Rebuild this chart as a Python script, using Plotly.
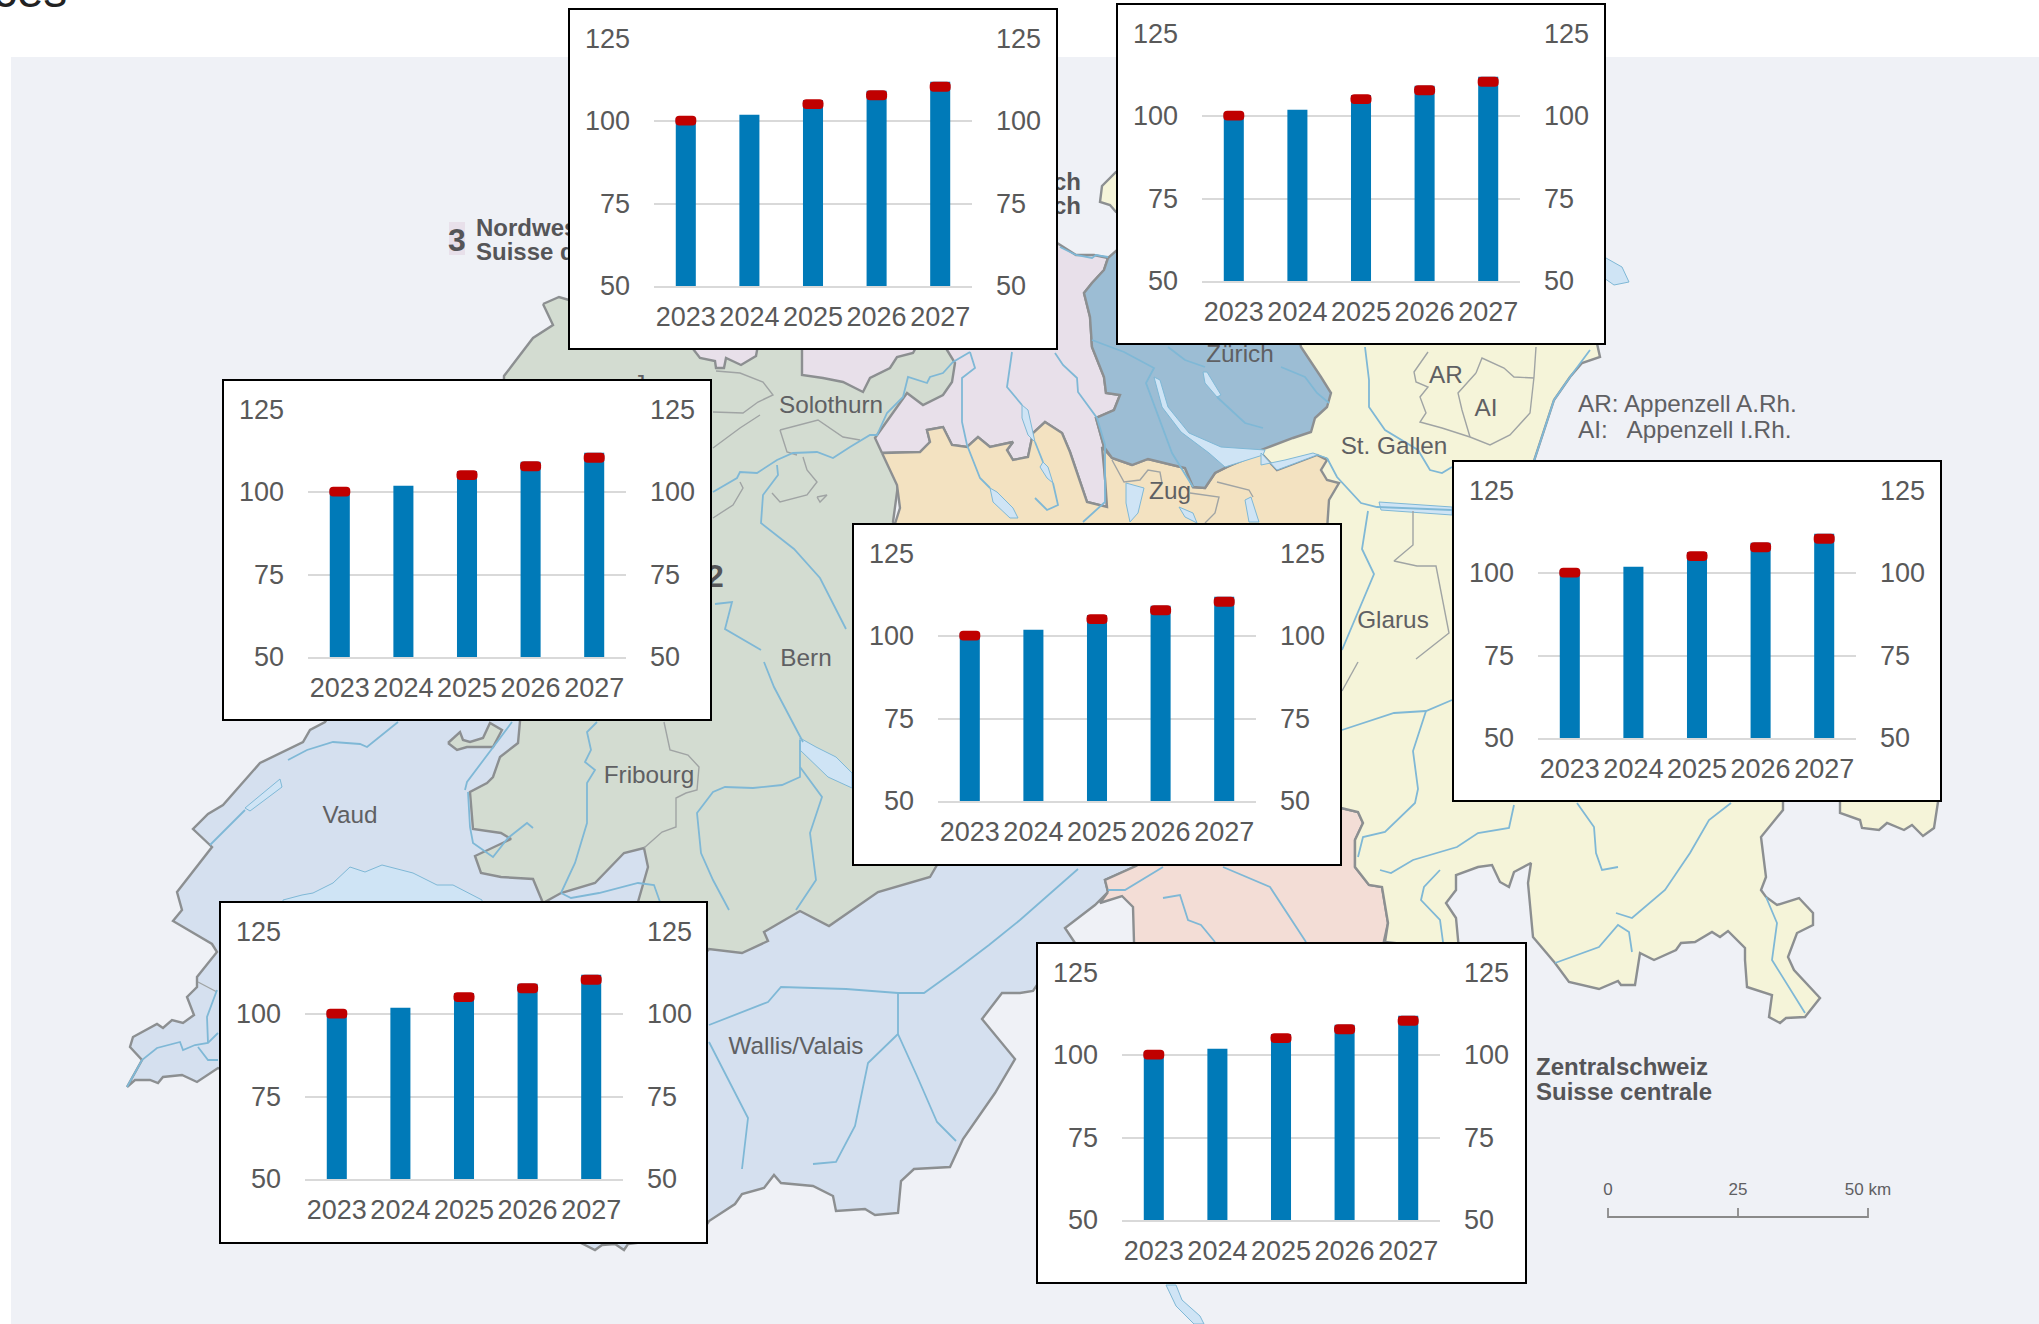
import plotly.graph_objects as go

W, H = 2039, 1324

# ---- chart data (the same in every regional panel) ----
YEARS = ["2023", "2024", "2025", "2026", "2027"]
INDEX_VALUES = [101.0, 101.9, 106.4, 109.2, 111.9]
MARKER_VALUES = [100.1, None, 105.1, 107.8, 110.4]
TICKS = [50, 75, 100, 125]

# panel frames: left, top, right, bottom (page pixels)
PANELS = [
    (569, 9, 1057, 349),
    (1117, 4, 1605, 344),
    (223, 380, 711, 720),
    (853, 524, 1341, 865),
    (1453, 461, 1941, 801),
    (220, 902, 707, 1243),
    (1037, 943, 1526, 1283),
]

BLUE = "#007ab8"
RED = "#c00000"
GREY_TXT = "#595959"
GRID = "#d9d9d9"
FONT = "Liberation Sans"
MARKER_HEIGHT = 3.0

# ---- decorative base map (page pixels) ----
C_BG = "#eff1f6"
C_WEST = "#d5e0ef"
C_GREEN = "#d3dcd1"
C_PURPLE = "#e8e0ea"
C_ORANGE = "#f3e2c1"
C_YELLOW = "#f5f4d9"
C_PINK = "#f3ddd6"
C_ZH = "#9cbdd4"
C_LAKE = "#cfe4f5"
C_BORDER = "#8c8f91"
C_THIN = "#a0a4a4"
C_RIVER = "#7fb8d6"
C_LABEL = "#5f6063"

west = [(127,1087),(142,1060),(130,1047),(133,1037),(157,1024),(163,1028),(172,1020),(183,1023),(194,1015),
        (187,997),(197,987),(197,977),(217,952),(212,944),(173,921),(182,910),(177,892),(192,873),(212,847),
        (193,829),(208,814),(223,805),(260,763),(303,742),(310,730),(325,722),(340,700),(700,690),(1141,700),
        (1200,800),(1136,866),(1105,880),(1108,892),(1095,905),(1065,928),(1075,943),(1037,985),(1033,991),
        (1020,993),(1002,993),(982,1019),(1015,1059),(995,1093),(963,1139),(950,1167),(914,1169),(901,1181),
        (898,1213),(875,1215),(865,1209),(836,1211),(833,1196),(813,1186),(781,1183),(774,1175),(764,1188),
        (742,1194),(735,1204),(709,1221),(700,1235),(628,1244),(624,1250),(615,1244),(602,1245),(595,1250),
        (585,1245),(570,1238),(300,1100),(218,1068),(197,1082),(182,1075),(163,1077),(158,1083),(150,1080),(135,1080)]
green = [(543,304),(559,297),(569,300),(700,300),(960,340),(950,400),(900,470),(893,522),(960,600),(937,865),
         (930,877),(878,892),(829,926),(800,911),(764,932),(768,941),(742,953),(709,949),(700,960),(638,950),
         (638,902),(648,867),(644,848),(624,853),(595,883),(561,893),(543,903),(533,879),(501,877),(481,873),
         (475,856),(511,839),(501,833),(473,829),(470,792),(487,783),(493,777),(500,757),(518,743),(520,721),
         (500,600),(504,380),(504,376),(520,355),(533,338),(553,325)]
green_enclave = [(448,743),(460,732),(463,740),(470,742),(483,738),(490,723),(502,730),(493,747),(467,747),(457,750)]
purple_main = [(882,453),(875,438),(907,393),(923,405),(943,395),(952,382),(955,363),(947,350),(960,300),(1057,243),
               (1076,255),(1094,255),(1108,258),(1104,270),(1092,283),(1084,293),(1090,317),(1092,347),(1104,377),
               (1106,393),(1120,395),(1114,410),(1096,418),(1104,447),(1105,478),(1107,507),(1087,502),(1070,452),
               (1062,433),(1045,422),(1033,433),(1028,457),(1013,460),(1007,450),(1013,442),(990,447),(978,437),
               (967,447),(952,445),(943,427),(927,430),(930,442),(920,452)]
purple_bl = [(802,340),(802,375),(823,378),(843,382),(863,392),(870,378),(890,368),(897,357),(913,353),(920,340)]
purple_bs = [(690,345),(700,358),(715,361),(716,368),(724,368),(726,358),(741,365),(756,356),(758,345)]
yellow = [(1385,942),(1388,923),(1382,887),(1369,885),(1355,867),(1355,840),(1363,823),(1358,812),(1341,808),
          (1290,560),(1250,450),(1250,330),(1594,330),(1600,357),(1582,363),(1570,377),(1554,400),(1534,461),(1700,470),
          (1938,600),(1938,802),(1934,828),(1923,836),(1912,825),(1904,830),(1887,823),(1879,830),(1862,828),
          (1860,820),(1840,813),(1840,795),(1783,795),(1783,810),(1764,833),(1761,837),(1766,877),(1761,890),
          (1766,897),(1777,905),(1799,898),(1813,913),(1813,925),(1797,933),(1788,957),(1794,970),(1820,998),
          (1805,1017),(1786,1018),(1780,1023),(1769,1017),(1772,995),(1747,987),(1745,960),(1745,948),(1728,931),
          (1720,937),(1712,932),(1695,942),(1681,943),(1676,950),(1654,960),(1640,953),(1635,985),(1621,985),
          (1618,981),(1599,989),(1583,985),(1569,982),(1555,963),(1533,937),(1528,883),(1531,863),(1514,872),
          (1509,887),(1500,882),(1492,865),(1478,867),(1456,875),(1456,890),(1446,903),(1456,918),(1459,950)]
schaffhausen = [(1130,165),(1116,172),(1102,186),(1100,202),(1110,205),(1116,212),(1130,215)]
pink = [(1108,892),(1105,880),(1136,866),(1141,863),(1200,750),(1341,750),(1341,808),(1358,812),(1363,823),(1355,840),
        (1355,867),(1369,885),(1382,887),(1388,923),(1382,950),(1134,950),(1134,942),(1133,907),(1122,896),(1100,903)]
zurich = [(1108,258),(1104,270),(1092,283),(1084,293),(1090,317),(1092,347),(1104,377),(1106,393),(1120,395),(1114,410),
          (1096,418),(1104,447),(1112,458),(1132,465),(1148,459),(1185,468),(1193,487),(1205,488),(1215,473),(1227,467),
          (1261,450),(1293,438),(1311,432),(1315,418),(1327,407),(1331,393),(1321,377),(1301,347),(1290,300),(1117,250)]
orange = [(882,453),(920,452),(930,442),(927,430),(943,427),(952,445),(967,447),(978,437),(990,447),(1013,442),
          (1007,450),(1013,460),(1028,457),(1033,433),(1045,422),(1062,433),(1070,452),(1087,502),(1107,507),(1105,478),
          (1102,447),(1112,458),(1132,465),(1148,459),(1185,468),(1193,487),(1205,488),(1215,473),(1227,467),(1261,453),
          (1277,470),(1317,455),(1327,460),(1321,470),(1327,480),(1339,483),(1329,500),(1327,530),(1200,540),(893,530),
          (900,508),(897,485)]
REGIONS = [
    (west, C_WEST), (green, C_GREEN), (green_enclave, C_GREEN), (purple_bl, C_PURPLE), (purple_bs, C_PURPLE),
    (pink, C_PINK), (yellow, C_YELLOW), (schaffhausen, C_YELLOW), (purple_main, C_PURPLE), (orange, C_ORANGE),
    (zurich, C_ZH),
]
LAKES = [
    [(1154,377),(1160,380),(1168,407),(1189,433),(1221,447),(1265,450),(1263,455),(1225,467),(1209,453),(1181,432),(1162,407)],
    [(1203,372),(1207,372),(1221,395),(1217,397),(1205,383)],
    [(1261,453),(1277,470),(1317,455),(1327,458),(1313,453),(1285,460),(1261,465)],
    [(1126,483),(1144,488),(1138,513),(1130,522),(1126,503)],
    [(1245,500),(1251,497),(1259,522),(1249,522)],
    [(1179,507),(1193,513),(1197,523),(1185,517)],
    [(1379,502),(1452,507),(1452,515),(1381,510)],
    [(990,488),(997,492),(1013,508),(1018,518),(1010,518),(993,502)],
    [(1022,405),(1028,410),(1035,442),(1028,435),(1022,418)],
    [(1043,462),(1048,467),(1053,483),(1047,478),(1040,467)],
    [(800,738),(816,747),(836,757),(852,773),(852,788),(828,777),(800,750)],
    [(283,900),(302,895),(313,893),(333,883),(350,867),(365,872),(382,865),(413,873),(437,885),(453,885),(482,900),(482,960),(283,960)],
    [(245,808),(280,779),(282,787),(250,811)],
    [(1606,258),(1622,267),(1629,282),(1614,285),(1604,278),(1600,258)],
    [(1166,1285),(1176,1285),(1182,1300),(1200,1316),(1204,1324),(1194,1324),(1176,1306)],
]
RIVERS = [
    [(1060,247),(1076,255),(1092,258),(1096,255),(1108,257)],
    [(713,492),(737,478),(740,472),(757,473),(777,460),(793,453),(817,452),(833,458),(850,447),(870,435),(877,435),(887,413),(903,397),(908,377),(927,383),(930,377),(943,373),(953,362),(970,352)],
    [(777,465),(778,475),(763,495),(761,523),(794,549),(820,578),(846,629)],
    [(764,662),(774,687),(794,725),(803,742)],
    [(970,352),(975,368),(962,378),(962,422),(967,445),(980,478),(990,488)],
    [(1012,352),(1007,387),(1022,405)], [(1035,442),(1043,462)], [(1053,483),(1058,505),(1047,510),(1035,498)],
    [(1055,353),(1063,365),(1077,378),(1078,392),(1097,418),(1105,445),(1105,502),(1083,522)],
    [(1092,340),(1124,352),(1154,368),(1146,383),(1172,453),(1193,487)],
    [(1217,397),(1245,423),(1263,428)], [(1168,347),(1185,360),(1205,367)], [(1281,367),(1305,377),(1317,393),(1329,403)],
    [(1534,461),(1554,400),(1570,377),(1590,350)],
    [(1365,347),(1369,380),(1369,407),(1385,430),(1418,450),(1430,470),(1442,473),(1452,467)],
    [(1327,458),(1337,477),(1361,503),(1377,507),(1452,510)],
    [(1368,511),(1362,549),(1374,574),(1358,612),(1342,650)],
    [(1342,730),(1394,713),(1426,711),(1452,700)], [(1426,711),(1413,751),(1418,789),(1415,803),(1385,832),(1363,837),(1358,857)],
    [(1380,870),(1391,873),(1413,860),(1457,847),(1478,833),(1509,828),(1514,805)],
    [(1440,870),(1424,887),(1421,900),(1440,920),(1443,942)],
    [(1577,803),(1594,827),(1596,853),(1602,870),(1618,867)],
    [(1731,803),(1709,820),(1690,853),(1665,890),(1632,918),(1616,913)],
    [(1555,963),(1599,947),(1618,925),(1629,932),(1632,952)],
    [(1766,897),(1777,923),(1772,960),(1805,1013)],
    [(1163,867),(1125,890),(1108,890)], [(1163,898),(1180,895),(1188,920),(1201,925),(1215,942)],
    [(1223,867),(1248,878),(1270,887),(1306,942)],
    [(709,1025),(768,1002),(781,987),(846,989),(898,993),(924,993),(956,970),(989,945),(1020,920),(1078,869)],
    [(898,993),(898,1034),(917,1076),(937,1122),(956,1141)], [(898,1034),(868,1063),(855,1126),(836,1162),(813,1164)],
    [(709,1042),(748,1118),(742,1169)],
    [(210,845),(245,810)], [(288,760),(307,750),(333,742),(360,744),(367,747),(398,722)],
    [(127,1087),(142,1060),(157,1048),(180,1042),(183,1050),(195,1045),(208,1043),(218,1033)],
    [(198,1047),(208,1060),(218,1060)], [(217,990),(207,1017),(208,1043)],
    [(512,722),(467,782),(465,790)], [(468,792),(470,827),(473,843),(493,857),(508,838),(527,823),(533,828)],
    [(597,722),(587,732),(591,750),(585,762),(595,770),(587,783),(587,823),(575,863),(561,893)],
    [(800,740),(800,777),(782,785),(753,788),(725,787),(713,792),(697,813),(701,853),(713,880),(729,910)],
    [(800,767),(822,797),(810,833),(816,880),(796,910)],
    [(561,893),(571,898),(599,893),(638,883),(654,885),(660,902)],
    [(715,604),(732,602),(725,629),(761,650)],
]
THIN = [
    [(664,722),(670,750),(688,755),(699,767),(697,790),(686,793),(676,798),(676,827),(662,832),(644,848)],
    [(713,412),(743,413),(758,402),(773,395),(763,382),(740,373),(716,371)],
    [(780,430),(818,420),(843,437),(860,440)], [(780,430),(787,452),(797,455)],
    [(803,457),(807,470),(817,482),(807,495),(780,502),(772,493)], [(817,497),(827,495),(820,502),(817,497)],
    [(713,448),(740,428),(760,415)], [(713,518),(733,505),(743,488),(740,482)],
    [(1428,352),(1414,372),(1416,382),(1428,387),(1420,397),(1426,413),(1420,422),(1442,428),(1470,437),(1490,445),(1510,435),(1530,413),(1534,377),(1536,347)],
    [(1476,373),(1458,393),(1462,410),(1470,437)], [(1476,373),(1482,358),(1504,368),(1514,377),(1534,378)],
    [(1413,511),(1413,545),(1394,561),(1417,566),(1436,566),(1449,633),(1416,659)], [(1342,691),(1358,662)],
    [(1112,460),(1124,482),(1140,480),(1148,470),(1160,472),(1162,483)],
    [(1190,493),(1219,497),(1215,513),(1205,523)], [(1217,482),(1249,490),(1253,497)],
    [(198,982),(217,992)],
]
SCALE_BAR = [[(1608,1208),(1608,1217),(1868,1217),(1868,1208)], [(1738,1208),(1738,1217)]]

# text, x, y, anchor
REGULAR_LABELS = [
    ("Solothurn", 831, 407, "middle center"), ("Zürich", 1240, 356, "middle center"), ("Zug", 1170, 493, "middle center"),
    ("St. Gallen", 1394, 448, "middle center"), ("AR", 1446, 377, "middle center"), ("AI", 1486, 410, "middle center"),
    ("Fribourg", 649, 777, "middle center"), ("Glarus", 1393, 622, "middle center"), ("Bern", 806, 660, "middle center"),
    ("Vaud", 350, 817, "middle center"), ("Wallis/Valais", 796, 1048, "middle center"), ("Jura", 657, 386, "middle center"),
    ("AR: Appenzell A.Rh.", 1578, 406, "middle right"), ("AI:   Appenzell I.Rh.", 1578, 432, "middle right"),
]
BOLD_LABELS = [
    ("Nordwestschweiz", 476, 229.5, "middle right"), ("Suisse du Nord-Ouest", 476, 253.5, "middle right"),
    ("Zürich", 1081, 184, "middle left"), ("Zurich", 1081, 208, "middle left"),
    ("Zentralschweiz", 1536, 1068.5, "middle right"), ("Suisse centrale", 1536, 1093.5, "middle right"),
]
SCALE_LABELS = [("0", 1608, 1191, "middle center"), ("25", 1738, 1191, "middle center"), ("50 km", 1868, 1191, "middle center")]
BIG_DIGITS = [("3", 457, 242.5), ("2", 715, 579)]
BADGE = [(449,222),(465,222),(465,255),(449,255)]
CLIPPED_TITLE = ("ces", 30, 19)


def path(pts, close=False):
    xs = [p[0] for p in pts]
    ys = [p[1] for p in pts]
    if close:
        xs.append(xs[0])
        ys.append(ys[0])
    return xs, ys


def multi(paths):
    xs, ys = [], []
    for p in paths:
        a, b = path(p)
        xs += a + [None]
        ys += b + [None]
    return xs, ys


fig = go.Figure()


def poly(pts, fill, line=None, width=2.4):
    x, y = path(pts, True)
    fig.add_trace(go.Scatter(x=x, y=y, mode="lines", fill="toself", fillcolor=fill,
                             line=dict(color=line or fill, width=width if line else 0),
                             hoverinfo="skip", showlegend=False, xaxis="x", yaxis="y"))


def lines(paths, color, width):
    x, y = multi(paths)
    fig.add_trace(go.Scatter(x=x, y=y, mode="lines", line=dict(color=color, width=width),
                             hoverinfo="skip", showlegend=False, xaxis="x", yaxis="y"))


def texts(items, size, color=C_LABEL, weight="normal"):
    for it in items:
        fig.add_trace(go.Scatter(x=[it[1]], y=[it[2]], mode="text", text=[it[0]],
                                 textposition=it[3] if len(it) > 3 else "middle center",
                                 textfont=dict(size=size, color=color, family=FONT, weight=weight),
                                 hoverinfo="skip", showlegend=False, xaxis="x", yaxis="y"))


poly([(11, 57), (W, 57), (W, H), (11, H)], C_BG)
for pts, col in REGIONS:
    poly(pts, col, C_BORDER)
for lk in LAKES:
    poly(lk, C_LAKE, C_RIVER, 1)
lines(THIN, C_THIN, 1.4)
lines(RIVERS, C_RIVER, 1.8)
lines(SCALE_BAR, "#8a8a8a", 1.8)
poly(BADGE, C_PURPLE)
texts(REGULAR_LABELS, 24.3)
texts(BOLD_LABELS, 24, "#555558", "bold")
texts(SCALE_LABELS, 17)
texts(BIG_DIGITS, 32, "#555558", "bold")
fig.add_trace(go.Scatter(x=[CLIPPED_TITLE[1]], y=[CLIPPED_TITLE[2]], mode="text", text=[CLIPPED_TITLE[0]],
                         textposition="top center", textfont=dict(size=48, color="#222222", family=FONT),
                         hoverinfo="skip", showlegend=False, xaxis="x", yaxis="y"))

layout = dict(
    width=W, height=H, autosize=False, margin=dict(l=0, r=0, t=0, b=0, pad=0, autoexpand=False),
    paper_bgcolor="white", plot_bgcolor="white", barmode="overlay", showlegend=False,
    xaxis=dict(domain=[0, 1], range=[0, W], visible=False, fixedrange=True),
    yaxis=dict(domain=[0, 1], range=[H, 0], visible=False, fixedrange=True),
)

n = len(PANELS)
for i, (l, t, r, b) in enumerate(PANELS):
    # white framed card (the axis line sits just outside the domain)
    k = i + 2
    layout[f"xaxis{k}"] = dict(domain=[(l + 1) / W, (r - 1) / W], range=[0, 1], anchor=f"y{k}", showgrid=False,
                               zeroline=False, showticklabels=False, ticks="", showline=True, mirror=True,
                               linecolor="black", linewidth=2, fixedrange=True)
    layout[f"yaxis{k}"] = dict(domain=[1 - (b - 1) / H, 1 - (t + 1) / H], range=[0, 1], anchor=f"x{k}", showgrid=False,
                               zeroline=False, showticklabels=False, ticks="", showline=True, mirror=True,
                               linecolor="black", linewidth=2, fixedrange=True)
    fig.add_trace(go.Scatter(x=[0.5], y=[0.5], mode="markers", marker=dict(opacity=0), hoverinfo="skip",
                             showlegend=False, xaxis=f"x{k}", yaxis=f"y{k}"))

    # chart inside the card
    c = n + 2 + i
    c2 = 2 * n + 2 + i
    x0, x1 = l + 85, l + 403
    y0, y1 = t + 29.5, t + 277
    axfont = dict(family=FONT, size=27, color=GREY_TXT)
    layout[f"xaxis{c}"] = dict(domain=[x0 / W, x1 / W], type="category", categoryorder="array", categoryarray=YEARS,
                               range=[-0.5, 4.5], anchor=f"y{c}", showgrid=False, zeroline=False, ticks="",
                               showline=True, linecolor=GRID, linewidth=2, tickfont=axfont, ticklabelstandoff=6,
                               fixedrange=True)
    common_y = dict(domain=[1 - y1 / H, 1 - y0 / H], range=[TICKS[0], TICKS[-1]], tickmode="array", tickvals=TICKS,
                    ticks="", zeroline=False, showline=False, tickfont=axfont, ticklabelstandoff=23, fixedrange=True)
    layout[f"yaxis{c}"] = dict(common_y, anchor=f"x{c}", showgrid=True, gridcolor=GRID, gridwidth=2)
    layout[f"yaxis{c2}"] = dict(common_y, anchor=f"x{c}", overlaying=f"y{c}", side="right", showgrid=False)
    fig.add_trace(go.Bar(x=YEARS, y=INDEX_VALUES, width=0.315, marker=dict(color=BLUE, line=dict(width=0)),
                         showlegend=False, xaxis=f"x{c}", yaxis=f"y{c}", hoverinfo="x+y"))
    fig.add_trace(go.Bar(x=YEARS, y=[MARKER_HEIGHT if v is not None else None for v in MARKER_VALUES],
                         base=[v - MARKER_HEIGHT / 2 if v is not None else None for v in MARKER_VALUES], width=0.33,
                         marker=dict(color=RED, cornerradius=4, line=dict(width=0)),
                         showlegend=False, xaxis=f"x{c}", yaxis=f"y{c2}", hoverinfo="x"))

fig.update_layout(**layout)
fig.write_html("out.html", config=dict(displayModeBar=False),
               post_script="document.body.style.margin='0';document.body.style.overflow='hidden';")
